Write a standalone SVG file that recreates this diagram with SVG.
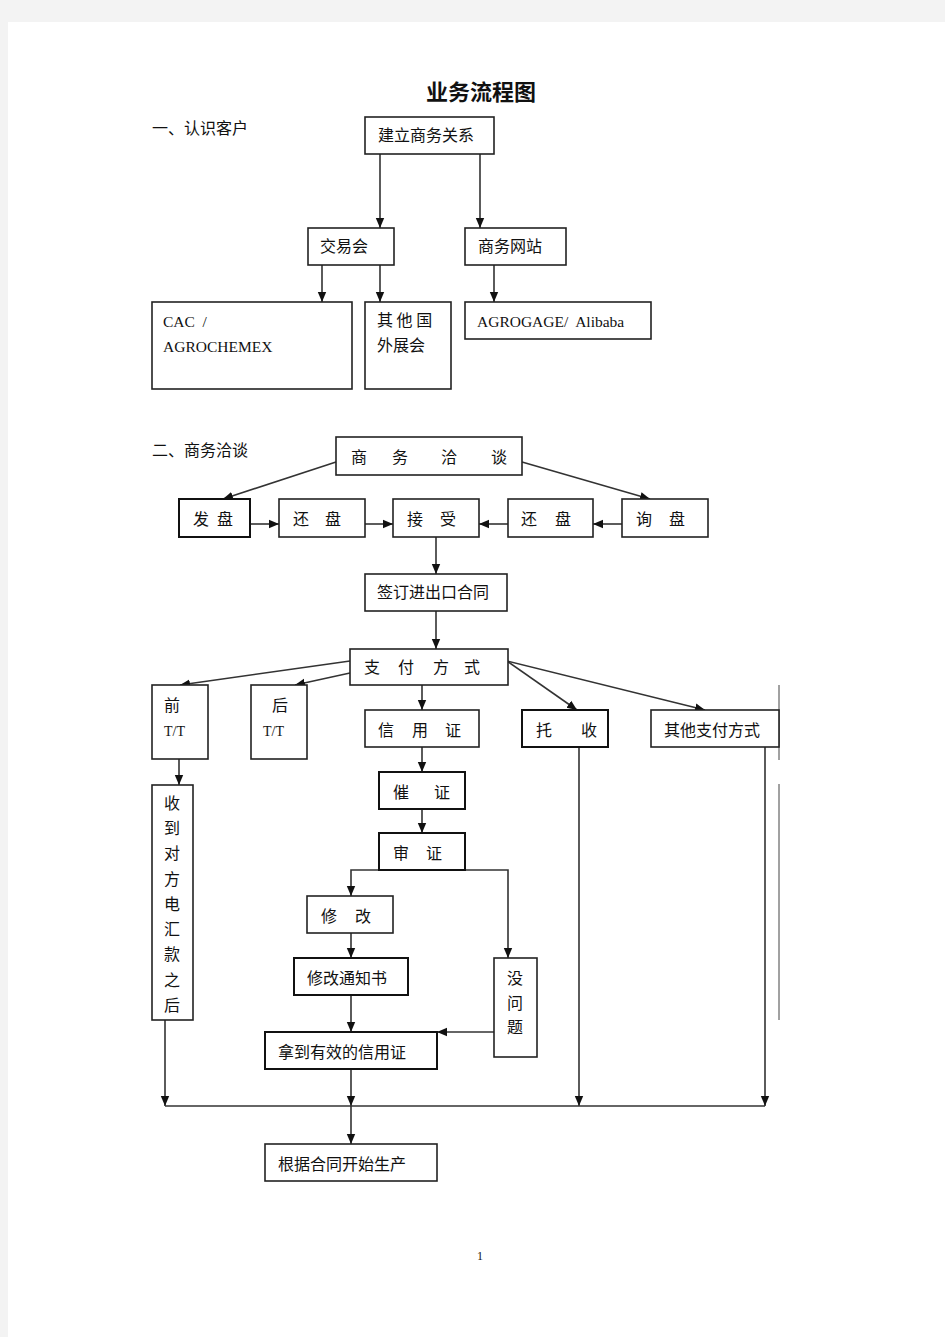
<svg xmlns="http://www.w3.org/2000/svg" width="945" height="1337" viewBox="0 0 945 1337">
<style>
.b{fill:#fff;stroke:#222;stroke-width:1.6}
.bb{fill:#fff;stroke:#111;stroke-width:2}
.t{font-family:"Noto Sans CJK SC","Noto Sans",sans-serif;font-size:16px;fill:#111}
.e{font-family:"Liberation Serif",serif;font-size:15.5px;fill:#111;white-space:pre}
.c{fill:none;stroke:#333;stroke-width:1.6}
.ca{fill:none;stroke:#333;stroke-width:1.6;marker-end:url(#a)}
</style>
<defs>
<marker id="a" viewBox="0 0 10 10" refX="10" refY="5" markerWidth="10" markerHeight="10" markerUnits="userSpaceOnUse" orient="auto"><path d="M0,0.8 L10,5 L0,9.2 z" fill="#111"/></marker>
</defs>
<rect x="0" y="0" width="945" height="1337" fill="#f3f3f3"/>
<rect x="8" y="22" width="937" height="1315" fill="#fff"/>
<text x="481" y="100" text-anchor="middle" style="font-family:'Noto Sans CJK SC',sans-serif;font-size:22px;font-weight:bold;fill:#111">业务流程图</text>
<text class="t" x="152" y="134">一、认识客户</text>
<text class="t" x="152" y="456">二、商务洽谈</text>

<g id="connectors">
<path class="ca" d="M380,154 V228"/>
<path class="ca" d="M480,154 V228"/>
<path class="ca" d="M322,265 V302"/>
<path class="ca" d="M380,265 V302"/>
<path class="ca" d="M494,265 V302"/>
<path class="ca" d="M336,462 L223,499"/>
<path class="ca" d="M522,462 L650,499"/>
<path class="ca" d="M250,524 H279"/>
<path class="ca" d="M365,524 H393"/>
<path class="ca" d="M508,524 H479"/>
<path class="ca" d="M622,524 H593"/>
<path class="ca" d="M436,537 V574"/>
<path class="ca" d="M436,611 V649"/>
<path class="ca" d="M350,661 L180,685"/>
<path class="ca" d="M350,673 L295,685"/>
<path class="ca" d="M422,685 V710"/>
<path class="ca" d="M507,661 L577,710"/>
<path class="ca" d="M507,661 L705,710"/>
<path class="ca" d="M179,759 V785"/>
<path class="ca" d="M422,747 V772"/>
<path class="ca" d="M422,809 V833"/>
<path class="ca" d="M379,870 H351 V896"/>
<path class="ca" d="M465,870 H508 V958"/>
<path class="ca" d="M351,933 V958"/>
<path class="ca" d="M351,995 V1032"/>
<path class="ca" d="M494,1032 H437"/>
<path class="ca" d="M351,1069 V1106"/>
<path class="ca" d="M165,1020 V1106"/>
<path class="ca" d="M579,747 V1106"/>
<path class="ca" d="M765,747 V1106"/>
<path class="c" d="M165,1106 H765"/>
<path class="ca" d="M351,1106 V1144"/>
<path d="M779,685 V760 M779,784 V1020" fill="none" stroke="#444" stroke-width="1"/>
</g>

<g id="n-jianli"><rect class="b" x="365" y="117" width="129" height="37"/><text class="t" x="378" y="141">建立商务关系</text></g>
<g id="n-jiaoyihui"><rect class="b" x="308" y="228" width="86" height="37"/><text class="t" x="320" y="252">交易会</text></g>
<g id="n-wangzhan"><rect class="b" x="465" y="228" width="101" height="37"/><text class="t" x="478" y="252">商务网站</text></g>
<g id="n-cac"><rect class="b" x="152" y="302" width="200" height="87"/><text class="e" x="163" y="327">CAC  /</text><text class="e" x="163" y="352">AGROCHEMEX</text></g>
<g id="n-qita"><rect class="b" x="365" y="302" width="86" height="87"/><text class="t" x="377" y="326">其 他 国</text><text class="t" x="377" y="351">外展会</text></g>
<g id="n-agro"><rect class="b" x="465" y="302" width="186" height="37"/><text class="e" x="477" y="327">AGROGAGE/  Alibaba</text></g>

<g id="n-qiatan"><rect class="b" x="336" y="437" width="186" height="38"/><text class="t" y="463"><tspan x="351">商</tspan><tspan x="392">务</tspan><tspan x="441">洽</tspan><tspan x="491">谈</tspan></text></g>
<g id="n-fapan"><rect class="bb" x="179" y="499" width="71" height="38"/><text class="t" y="525"><tspan x="193">发</tspan><tspan x="217">盘</tspan></text></g>
<g id="n-huanpan1"><rect class="b" x="279" y="499" width="86" height="38"/><text class="t" y="525"><tspan x="293">还</tspan><tspan x="325">盘</tspan></text></g>
<g id="n-jieshou"><rect class="b" x="393" y="499" width="86" height="38"/><text class="t" y="525"><tspan x="407">接</tspan><tspan x="440">受</tspan></text></g>
<g id="n-huanpan2"><rect class="b" x="508" y="499" width="85" height="38"/><text class="t" y="525"><tspan x="521">还</tspan><tspan x="555">盘</tspan></text></g>
<g id="n-xunpan"><rect class="b" x="622" y="499" width="86" height="38"/><text class="t" y="525"><tspan x="636">询</tspan><tspan x="669">盘</tspan></text></g>
<g id="n-qianding"><rect class="b" x="365" y="574" width="142" height="37"/><text class="t" x="377" y="598">签订进出口合同</text></g>
<g id="n-zhifu"><rect class="b" x="350" y="649" width="158" height="36"/><text class="t" y="673"><tspan x="364">支</tspan><tspan x="398">付</tspan><tspan x="433">方</tspan><tspan x="464">式</tspan></text></g>
<g id="n-qian"><rect class="b" x="152" y="685" width="56" height="74"/><text class="t" x="164" y="711">前</text><text class="e" x="164" y="736" style="font-size:14px">T/T</text></g>
<g id="n-hou"><rect class="b" x="251" y="685" width="56" height="74"/><text class="t" x="272" y="711">后</text><text class="e" x="263" y="736" style="font-size:14px">T/T</text></g>
<g id="n-xinyong"><rect class="b" x="365" y="710" width="114" height="37"/><text class="t" y="736"><tspan x="378">信</tspan><tspan x="412">用</tspan><tspan x="445">证</tspan></text></g>
<g id="n-tuoshou"><rect class="bb" x="522" y="710" width="86" height="37"/><text class="t" y="736"><tspan x="536">托</tspan><tspan x="581">收</tspan></text></g>
<g id="n-qitazhifu"><rect class="b" x="651" y="710" width="128" height="37"/><text class="t" x="664" y="736">其他支付方式</text></g>
<g id="n-shoudao"><rect class="b" x="152" y="785" width="41" height="235"/><text class="t"><tspan x="164" y="809">收</tspan><tspan x="164" y="834">到</tspan><tspan x="164" y="859">对</tspan><tspan x="164" y="885">方</tspan><tspan x="164" y="910">电</tspan><tspan x="164" y="935">汇</tspan><tspan x="164" y="960">款</tspan><tspan x="164" y="986">之</tspan><tspan x="164" y="1011">后</tspan></text></g>
<g id="n-cuizheng"><rect class="bb" x="379" y="772" width="86" height="37"/><text class="t" y="798"><tspan x="393">催</tspan><tspan x="434">证</tspan></text></g>
<g id="n-shenzheng"><rect class="bb" x="379" y="833" width="86" height="37"/><text class="t" y="859"><tspan x="393">审</tspan><tspan x="426">证</tspan></text></g>
<g id="n-xiugai"><rect class="b" x="307" y="896" width="86" height="37"/><text class="t" y="922"><tspan x="321">修</tspan><tspan x="355">改</tspan></text></g>
<g id="n-tongzhi"><rect class="bb" x="294" y="958" width="114" height="37"/><text class="t" x="307" y="984">修改通知书</text></g>
<g id="n-meiwenti"><rect class="b" x="494" y="958" width="43" height="99"/><text class="t"><tspan x="507" y="984">没</tspan><tspan x="507" y="1009">问</tspan><tspan x="507" y="1033">题</tspan></text></g>
<g id="n-nadao"><rect class="bb" x="265" y="1032" width="172" height="37"/><text class="t" x="278" y="1058">拿到有效的信用证</text></g>
<g id="n-shengchan"><rect class="b" x="265" y="1144" width="172" height="37"/><text class="t" x="278" y="1170">根据合同开始生产</text></g>
<text x="480" y="1260" text-anchor="middle" style="font-family:'Liberation Serif',serif;font-size:12px;fill:#111">1</text>
</svg>
